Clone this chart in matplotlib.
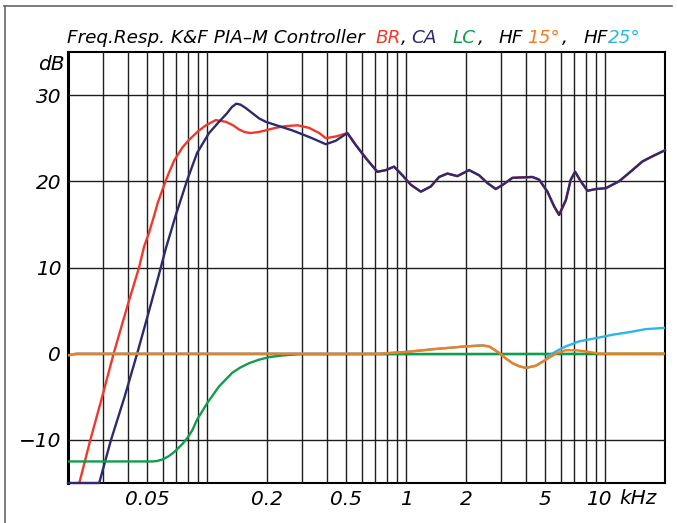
import numpy as np
import matplotlib.pyplot as plt
import matplotlib.transforms as mtransforms
from matplotlib.lines import Line2D

# Frequencies in kHz, levels in dB

# BR (red) below 0.5 kHz, above that it runs under the CA curve
br_f = [0.020, 0.0228, 0.0259, 0.0297, 0.0339, 0.0395, 0.0455, 0.0482, 0.0510, 0.0540,
        0.0565, 0.0596, 0.0635, 0.0683, 0.0750, 0.0811, 0.0900, 0.0987, 0.1105, 0.1244,
        0.1350, 0.1450, 0.1550, 0.1657, 0.180, 0.197, 0.220, 0.2484, 0.2848, 0.3255,
        0.366, 0.395, 0.443]
br_db = [-20, -15, -10, -5, 0, 5.3, 10, 12.4, 14.0, 15.9,
         17.5, 19.0, 20.7, 22.4, 23.9, 24.8, 25.8, 26.5, 27.1, 26.9,
         26.5, 26.0, 25.7, 25.6, 25.7, 25.9, 26.2, 26.4, 26.5, 26.2,
         25.6, 25.0, 25.2]

# CA (navy) below 0.5 kHz
ca_f = [0.020, 0.0287, 0.0329, 0.0385, 0.0445, 0.0510, 0.0570, 0.0622, 0.0699, 0.0793,
        0.0891, 0.1023, 0.1148, 0.126, 0.133, 0.140, 0.147, 0.1564, 0.1689, 0.1825,
        0.1972, 0.2300, 0.2684, 0.290, 0.337, 0.395, 0.443]
ca_db = [-15, -15, -10, -5, 0, 4.9, 9.0, 12.3, 16.2, 20.1,
         23.3, 25.6, 26.9, 27.9, 28.6, 29.0, 28.9, 28.5, 27.9, 27.3,
         26.9, 26.4, 25.9, 25.6, 25.0, 24.3, 24.7]

# common part of BR and CA above 0.5 kHz
mid_f = [0.507, 0.559, 0.627, 0.717, 0.791, 0.870, 0.958, 1.056, 1.186, 1.331,
         1.465, 1.613, 1.810, 2.073, 2.327, 2.562, 2.823, 3.108, 3.421, 4.312,
         4.659, 5.130, 5.543, 5.872, 6.346, 6.725, 7.068, 7.549, 8.150, 8.981,
         10.08, 11.76, 13.72, 15.40, 17.29, 20.0]
mid_db = [25.6, 24.2, 22.7, 21.1, 21.3, 21.7, 20.7, 19.6, 18.8, 19.4,
          20.5, 20.9, 20.6, 21.3, 20.7, 19.8, 19.1, 19.7, 20.4, 20.5,
          20.2, 18.8, 17.1, 16.1, 17.8, 20.2, 21.1, 20.0, 18.9, 19.1,
          19.2, 20.0, 21.3, 22.3, 22.9, 23.6]

# LC (green)
lc_f = [0.020, 0.0529, 0.0560, 0.0600, 0.0640, 0.0680, 0.0720, 0.0760, 0.0800, 0.0842,
        0.0893, 0.0950, 0.1003, 0.107, 0.1148, 0.124, 0.134, 0.147, 0.1626, 0.182,
        0.205, 0.240, 0.290, 20.0]
lc_db = [-12.5, -12.5, -12.45, -12.25, -11.9, -11.45, -10.9, -10.35, -9.7, -8.9,
         -7.6, -6.6, -5.7, -4.8, -3.8, -3.0, -2.2, -1.6, -1.1, -0.7,
         -0.4, -0.2, -0.05, 0]

# HF 15° (orange)
hf15_f = [0.020, 0.022, 0.732, 0.997, 1.410, 1.995, 2.417, 2.613, 2.934, 3.15,
          3.421, 3.70, 3.996, 4.485, 5.035, 5.652, 6.346, 7.125, 7.999, 9.33, 20.0]
hf15_db = [-0.2, 0, 0, 0.2, 0.55, 0.85, 0.96, 0.85, 0.1, -0.5,
           -1.1, -1.45, -1.65, -1.4, -0.7, 0, 0.4, 0.4, 0.27, 0, 0]

# HF 25° (light blue), same as HF 15° up to about 5 kHz
hf25_f = hf15_f[:15] + [5.23, 5.87, 6.35, 7.40, 8.98, 10.90, 13.23, 16.0, 20.0]
hf25_db = hf15_db[:15] + [-0.2, 0.46, 0.85, 1.43, 1.8, 2.2, 2.5, 2.85, 3.0]

x_labels = [0.05, 0.2, 0.5, 1, 2, 5, 10]
x_label_text = ['0.05', '0.2', '0.5', '1', '2', '5', '10']
x_grid = [0.03, 0.04, 0.06, 0.07, 0.08, 0.09, 0.1, 0.3, 0.4, 0.6, 0.7, 0.8, 0.9,
          3, 4, 6, 7, 8, 9]
y_ticks = [-10, 0, 10, 20, 30]

c_br = '#f0392b'
c_ca = '#2d2b6e'
c_lc = '#109e4c'
c_15 = '#f47c22'
c_25 = '#2bb7e6'

plt.rcParams['font.family'] = 'DejaVu Sans'
plt.rcParams['font.style'] = 'oblique'

W, H = 677, 523
fig = plt.figure(figsize=(W / 100, H / 100), dpi=100)
ax = fig.add_axes([68 / W, 1 - 483 / H, (665 - 68) / W, (483 - 52) / H])

lw = 1.7
ax.plot(br_f + mid_f, br_db + mid_db, color=c_br, lw=lw)
ax.plot(ca_f + mid_f, ca_db + mid_db, color=c_ca, lw=lw, clip_on=False)
ax.plot(lc_f, lc_db, color=c_lc, lw=lw)
ax.plot(hf25_f, hf25_db, color=c_25, lw=lw)
ax.plot(hf15_f, hf15_db, color=c_15, lw=lw)

ax.set_xscale('log')
ax.set_xlim(0.02, 20)
ax.set_ylim(-15, 35)
ax.set_xticks(x_labels)
ax.set_xticklabels(x_label_text)
ax.set_xticks(x_grid, minor=True)
ax.set_xticklabels([], minor=True)
ax.set_yticks(y_ticks)
ax.set_yticklabels([str(v).replace('-', '\u2212') for v in y_ticks])
ax.grid(True, which='both', color='#1e1e1e', lw=1.0)
ax.tick_params(which='both', length=0, labelsize=14.5)
ax.tick_params(axis='x', pad=5)
ax.tick_params(axis='y', pad=5)
for s in ax.spines.values():
    s.set_linewidth(1.5)
    s.set_color('black')
    s.set_zorder(1.5)
ax.spines['left'].set_linewidth(2.2)

# the "10" label sits a bit left so that "kHz" fits beside it
lab10 = ax.get_xticklabels()[-1]
lab10.set_transform(lab10.get_transform() + mtransforms.ScaledTranslation(-6 / 100, 0, fig.dpi_scale_trans))

# axis unit labels
fig.text(65 / W, 1 - 64 / H, 'dB', ha='right', va='center', fontsize=14.5)
fig.text(619 / W, 1 - 499 / H, 'kHz', ha='left', va='center', fontsize=14.5)

# coloured title
title_parts = ['Freq.Resp. K&F PIA\u2013M Controller', 'BR', ',', 'CA', 'LC', ',',
               'HF', '15°', ',', 'HF', '25°']
title_colors = ['black', c_br, 'black', c_ca, c_lc, 'black',
                'black', c_15, 'black', 'black', c_25]
title_x = [67, 375, 401, 411, 453, 478, 498, 527, 562, 583, 608]
for txt, col, px in zip(title_parts, title_colors, title_x):
    fig.text(px / W, 1 - 43 / H, txt, color=col, fontsize=13.2, ha='left', va='baseline')

# thin frame (top and left)
fig.add_artist(Line2D([4 / W, 672 / W], [1 - 6 / H, 1 - 6 / H], color='#666666', lw=1.2))
fig.add_artist(Line2D([4.5 / W, 4.5 / W], [0, 1 - 6 / H], color='#666666', lw=1.2))

fig.savefig('out.png', dpi=100)
